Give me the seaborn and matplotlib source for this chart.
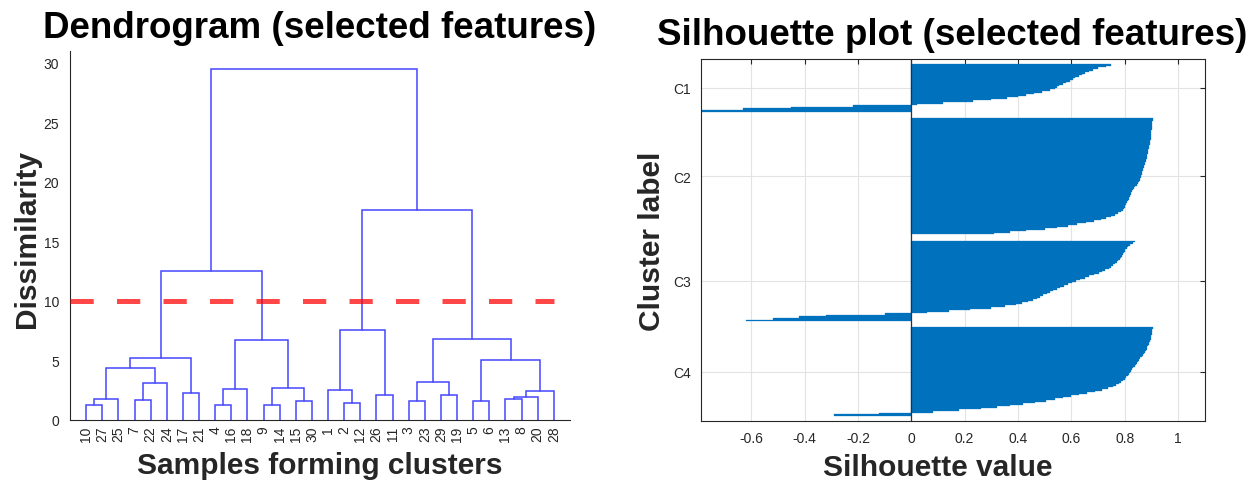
import matplotlib
matplotlib.use("Agg")
import matplotlib.pyplot as plt
import numpy as np
import pandas as pd
import seaborn as sns

# ---- dendrogram data -------------------------------------------------------
leaf_order = [10, 27, 25, 7, 22, 24, 17, 21, 4, 16, 18, 9, 14, 15, 30,
              1, 2, 12, 26, 11, 3, 23, 29, 19, 5, 6, 13, 8, 20, 28]
# Linkage rows: node 31 + i joins merge_left[i] and merge_right[i] at merge_height[i]
merge_left = [10, 31, 7, 33, 32, 17, 35, 4, 38, 9, 15, 40, 39, 37,
              2, 1, 26, 46, 3, 29, 49, 5, 13, 53, 54, 52, 51, 48, 44]
merge_right = [27, 25, 22, 24, 34, 21, 36, 16, 18, 14, 30, 41, 42, 43,
               12, 45, 11, 47, 23, 19, 50, 6, 8, 20, 28, 55, 56, 57, 58]
merge_height = [1.23, 1.79, 1.68, 3.08, 4.40, 2.30, 5.21, 1.29, 2.58, 1.29,
                1.57, 2.72, 6.72, 12.52, 1.40, 2.55, 2.10, 7.56, 1.60, 2.10,
                3.22, 1.57, 1.74, 1.90, 2.46, 5.04, 6.81, 17.63, 29.49]
cut_height = 10
dendro_yticks = [0, 5, 10, 15, 20, 25, 30]

# ---- silhouette data (sorted within each cluster) --------------------------
cluster_names = ["C1", "C2", "C3", "C4"]
sil_c1 = [0.75, 0.73, 0.70, 0.68, 0.665, 0.65, 0.64, 0.63, 0.615, 0.605,
          0.595, 0.58, 0.57, 0.555, 0.545, 0.54, 0.52, 0.49, 0.46, 0.43,
          0.40, 0.36, 0.30, 0.23, 0.12, 0.02, -0.22, -0.45, -0.63, -0.79]
sil_c2 = [0.905, 0.905, 0.904, 0.903, 0.903, 0.902, 0.902, 0.901, 0.900, 0.900,
          0.899, 0.898, 0.898, 0.897, 0.896, 0.895, 0.894, 0.893, 0.892, 0.890,
          0.889, 0.888, 0.887, 0.885, 0.884, 0.882, 0.880, 0.879, 0.877, 0.876,
          0.874, 0.872, 0.870, 0.868, 0.866, 0.864, 0.862, 0.860, 0.858, 0.856,
          0.853, 0.849, 0.845, 0.840, 0.836, 0.832, 0.828, 0.825, 0.822, 0.820,
          0.818, 0.815, 0.812, 0.809, 0.806, 0.803, 0.800, 0.797, 0.793, 0.785,
          0.775, 0.762, 0.748, 0.730, 0.710, 0.685, 0.655, 0.622, 0.588, 0.548,
          0.500, 0.430, 0.370, 0.310]
sil_c3 = [0.838, 0.830, 0.820, 0.812, 0.807, 0.803, 0.800, 0.797, 0.794, 0.790,
          0.786, 0.781, 0.776, 0.770, 0.763, 0.757, 0.748, 0.740, 0.728, 0.716,
          0.702, 0.685, 0.666, 0.650, 0.633, 0.617, 0.603, 0.588, 0.572, 0.557,
          0.545, 0.532, 0.520, 0.507, 0.495, 0.483, 0.470, 0.455, 0.438, 0.415,
          0.392, 0.350, 0.300, 0.220, 0.140, 0.060, -0.10, -0.32, -0.42, -0.52,
          -0.62]
sil_c4 = [0.905, 0.904, 0.903, 0.902, 0.901, 0.900, 0.899, 0.897, 0.895, 0.893,
          0.891, 0.888, 0.885, 0.882, 0.879, 0.876, 0.872, 0.868, 0.864, 0.859,
          0.854, 0.849, 0.845, 0.841, 0.837, 0.833, 0.829, 0.825, 0.821, 0.817,
          0.812, 0.806, 0.800, 0.793, 0.786, 0.778, 0.768, 0.756, 0.738, 0.715,
          0.688, 0.660, 0.630, 0.600, 0.570, 0.540, 0.505, 0.465, 0.420, 0.370,
          0.320, 0.260, 0.180, 0.080, -0.12, -0.29]
sil_xticks = [-0.6, -0.4, -0.2, 0, 0.2, 0.4, 0.6, 0.8, 1]

# ---- style -----------------------------------------------------------------
sns.set_style("white")
plt.rcParams["font.family"] = ["Liberation Sans", "DejaVu Sans"]
TXT = "#262626"
BLUE_LINE = "#4646ff"
BAR_BLUE = "#0072BD"
TITLE_SIZE = 26.5
LABEL_SIZE = 21.5
TICK_SIZE = 10

W, H = 1260, 489
fig = plt.figure(figsize=(W / 100, H / 100), dpi=100)


def box(l, t, r, b):
    return [l / W, 1 - b / H, (r - l) / W, (b - t) / H]


# ---- dendrogram ------------------------------------------------------------
ax1 = fig.add_axes(box(70, 52, 570, 421))
n_leaves = len(leaf_order)
xpos = {leaf: i + 1 for i, leaf in enumerate(leaf_order)}
ypos = {leaf: 0.0 for leaf in leaf_order}
for i, (a, b, h) in enumerate(zip(merge_left, merge_right, merge_height)):
    node = n_leaves + 1 + i
    ax1.plot([xpos[a], xpos[a], xpos[b], xpos[b]],
             [ypos[a], h, h, ypos[b]],
             color=BLUE_LINE, lw=1.1, solid_joinstyle="miter")
    xpos[node] = (xpos[a] + xpos[b]) / 2
    ypos[node] = h

# cut line drawn over the tree, semi-transparent red
sns.lineplot(x=[0, n_leaves], y=[cut_height, cut_height], ax=ax1,
             color="red", alpha=0.72, lw=3.6, linestyle=(0, (4.65, 4.65)),
             zorder=3)

ax1.set_xlim(0, n_leaves + 1)
ax1.set_ylim(0, 31)
ax1.set_xticks(range(1, n_leaves + 1))
ax1.set_xticklabels([str(v) for v in leaf_order], rotation=90)
ax1.set_yticks(dendro_yticks)
ax1.tick_params(axis="both", direction="in", length=3.5, width=0.8,
                colors=TXT, labelsize=TICK_SIZE)
ax1.tick_params(axis="y", pad=8)
ax1.tick_params(axis="x", pad=4, length=0)
for s in ["top", "right"]:
    ax1.spines[s].set_visible(False)
for s in ["left", "bottom"]:
    ax1.spines[s].set_color(TXT)
    ax1.spines[s].set_linewidth(0.8)

ax1.set_title("Dendrogram (selected features)", fontsize=TITLE_SIZE,
              fontweight="bold", color="black", pad=10)
ax1.set_xlabel("Samples forming clusters", fontsize=LABEL_SIZE,
               fontweight="bold", color=TXT)
ax1.set_ylabel("Dissimilarity", fontsize=LABEL_SIZE, fontweight="bold", color=TXT)
ax1.xaxis.set_label_coords(0.5, -0.122)
ax1.yaxis.set_label_coords(-0.086, 0.493)
ax1.xaxis.label.set_va("center")
ax1.yaxis.label.set_va("center")

# ---- silhouette plot -------------------------------------------------------
space = 4
positions, values, tick_pos = [], [], []
pos = space
for vals in [sil_c1, sil_c2, sil_c3, sil_c4]:
    start = pos + 1
    for v in vals:
        pos += 1
        positions.append(pos)
        values.append(v)
    tick_pos.append((start + pos) / 2)
    pos += space
n_rows = pos

ax2 = fig.add_axes(box(700.6, 59.7, 1204.7, 422.3))
ax2.set_axisbelow(True)
ax2.grid(True, color="#e3e3e3", lw=0.8)
df = pd.DataFrame({"pos": positions, "value": values})
sns.barplot(data=df, x="value", y="pos", orient="y", native_scale=True,
            width=1.0, color=BAR_BLUE, saturation=1, errorbar=None,
            linewidth=0.2, edgecolor=BAR_BLUE, ax=ax2)
ax2.axvline(0, color="#303030", lw=0.9, zorder=1.5)

ax2.set_xlim(-0.79, 1.1)
ax2.set_ylim(n_rows, 1)
ax2.set_yticks(tick_pos)
ax2.set_yticklabels(cluster_names)
ax2.set_xticks(sil_xticks)
ax2.set_xticklabels([f"{v:g}" for v in sil_xticks])
ax2.tick_params(axis="both", direction="in", length=3.5, width=0.8,
                colors=TXT, labelsize=TICK_SIZE, top=True, right=True,
                labeltop=False, labelright=False)
ax2.tick_params(axis="x", pad=7)
ax2.tick_params(axis="y", pad=7)
for s in ax2.spines.values():
    s.set_visible(True)
    s.set_color(TXT)
    s.set_linewidth(0.8)

ax2.set_title("Silhouette plot (selected features)", fontsize=TITLE_SIZE,
              fontweight="bold", color="black", pad=10.5)
ax2.set_xlabel("Silhouette value", fontsize=LABEL_SIZE, fontweight="bold", color=TXT)
ax2.set_ylabel("Cluster label", fontsize=LABEL_SIZE, fontweight="bold", color=TXT)
ax2.xaxis.set_label_coords(0.471, -0.126)
ax2.yaxis.set_label_coords(-0.096, 0.5)
ax2.xaxis.label.set_va("center")
ax2.yaxis.label.set_va("center")

fig.savefig("out.png", dpi=100, facecolor="white")
